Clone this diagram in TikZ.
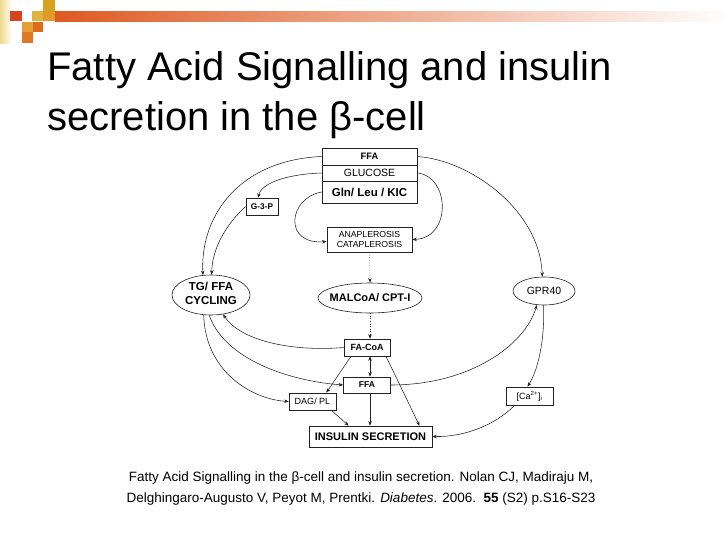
\documentclass[tikz,border=0pt]{standalone}
\usepackage{fontspec}
\setmainfont{Liberation Sans}
\usetikzlibrary{shapes.geometric,arrows.meta,calc}
\newcommand\fsz[1]{\fontsize{#1}{#1}\selectfont}
\definecolor{decoRed}{HTML}{D8431B}
\definecolor{decoGoldA}{HTML}{D9A21E}
\definecolor{decoGoldB}{HTML}{E2B240}
\definecolor{decoGoldC}{HTML}{E0992A}
\definecolor{decoOrA}{HTML}{E5A035}
\definecolor{decoOrB}{HTML}{DE6A1E}
\definecolor{decoOrC}{HTML}{E07A22}
\definecolor{decoBar}{HTML}{DE5A22}
\definecolor{decoCream}{HTML}{EFD98C}
\definecolor{ink}{HTML}{222222}
\begin{document}
\begin{tikzpicture}[x=1pt,y=-1pt,
  every node/.style={inner sep=0pt,text=black},
  box/.style={draw=ink,line width=0.6pt,rectangle,align=center},
  oval/.style={draw=ink,line width=0.6pt,ellipse},
  arr/.style={draw=ink,line width=0.55pt,-{Stealth[length=4.5pt,width=3.5pt]}},
  darr/.style={arr,dotted},
  barr/.style={draw=ink,line width=0.55pt,{Stealth[length=4.5pt,width=3.5pt]}-{Stealth[length=4.5pt,width=3.5pt]}}]
\useasboundingbox[fill=white] (0,0) rectangle (728,546);
% corner decoration
\fill[left color=decoCream,right color=white] (0,0) rectangle (12,43);
\fill[decoRed] (10,11) rectangle (22,21);
\fill[decoGoldA] (43,0) rectangle (55,11);
\fill[decoGoldB] (32,11) rectangle (43,21);
\fill[decoGoldC] (43,11) rectangle (55,21);
\fill[decoOrA] (22,22) rectangle (33,32);
\fill[decoOrB] (33,22) rectangle (43,32);
\fill[decoOrC] (22,32) rectangle (33,43);
\fill[left color=decoBar,right color=white] (55,11) rectangle (728,21);
% title
\node[anchor=base west,align=left,font=\fontsize{40}{50}\selectfont] (title) at (47,130)
  {Fatty Acid Signalling and insulin\\secretion in the β-cell};
% diagram nodes
\node[box,minimum width=95,minimum height=17,font=\fsz{9.3}\bfseries] (ffa1) at (369.5,156.5) {FFA};
\node[box,minimum width=95,minimum height=16,font=\fsz{10.5}] (glu) at (369.5,173) {GLUCOSE};
\node[box,minimum width=95,minimum height=22,font=\fsz{11.5}\bfseries] (gln) at (369.5,192) {Gln/ Leu / KIC};
\node[box,minimum width=32,minimum height=17,font=\fsz{8.3}\bfseries] (g3p) at (262,206.5) {G-3-P};
\node[box,minimum width=85,minimum height=25,font=\fontsize{8.7}{9.5}\selectfont] (ana) at (369.5,239.5) {ANAPLEROSIS\\CATAPLEROSIS};
\node[oval,minimum width=78,minimum height=40,font=\fontsize{11.5}{13.5}\selectfont\bfseries] (tg) at (211,295)
  {\makebox[0pt]{\begin{tabular}{@{}c@{}}TG/ FFA\\CYCLING\end{tabular}}};
\node[oval,minimum width=104,minimum height=30,font=\fsz{11}\bfseries] (mal) at (370,298) {\makebox[0pt]{MALCoA/ CPT-I}};
\node[oval,minimum width=62,minimum height=28,font=\fsz{10.5}] (gpr) at (544,291) {\makebox[0pt]{GPR40}};
\node[box,minimum width=46,minimum height=17,font=\fsz{9}\bfseries] (facoa) at (367,347.5) {FA-CoA};
\node[box,minimum width=47,minimum height=16,font=\fsz{8.5}\bfseries] (ffa2) at (367,385) {FFA};
\node[box,minimum width=47,minimum height=17,font=\fsz{9}] (dag) at (312.5,401.5) {DAG/ PL};
\node[box,minimum width=47,minimum height=18,font=\fsz{9}] (ca) at (529.5,396) {[Ca\textsuperscript{2+}]\textsubscript{i}};
\node[box,minimum width=123,minimum height=21,font=\fsz{11}\bfseries] (ins) at (370.5,436.5) {INSULIN SECRETION};
% connectors
\draw[arr] (ffa1.west) .. controls (240,160) and (200,215) .. (tg.112);
\draw[arr] (glu.west) .. controls (290,174) and (262,182) .. ($(g3p.north)+(-4,0)$);
\draw[arr] (g3p.west) .. controls (225,225) and (212,250) .. (tg.88);
\draw[arr] (ffa1.east) .. controls (470,160) and (540,210) .. (gpr.97);
\draw[arr] (glu.east) .. controls (450,176) and (452,238) .. (ana.east);
\draw[arr] (gln.west) .. controls (288,198) and (283,245) .. ($(ana.west)+(0,2)$);
\draw[darr] (ana.south) -- (mal.north);
\draw[darr] (mal.south) -- ($(facoa.north)+(3,0)$);
\draw[barr] ($(facoa.south)+(3,0)$) -- ($(ffa2.north)+(3,0)$);
\draw[arr] ($(ffa2.south)+(3,0)$) -- ($(ins.north)+(-0.5,0)$);
\draw[arr] (facoa.west) .. controls (290,352) and (240,340) .. (tg.302);
\draw[arr] (tg.265) .. controls (225,360) and (290,381) .. (ffa2.west);
\draw[arr] (tg.250) .. controls (205,370) and (250,399) .. (dag.west);
\draw[arr] ($(facoa.south)+(-16,0)$) -- ($(dag.north east)+(-10,0)$);
\draw[arr] ($(facoa.south)+(19,0)$) -- ($(ins.north)+(49,0)$);
\draw[arr] ($(dag.south east)+(-5,0)$) -- ($(ins.north west)+(40,0)$);
\draw[arr] (ffa2.east) .. controls (470,385) and (525,345) .. (gpr.243);
\draw[arr] (gpr.268) .. controls (545,340) and (538,370) .. ($(ca.north)+(-2,0)$);
\draw[arr] ($(ca.south west)+(9,0)$) .. controls (495,425) and (465,437) .. (ins.east);
% caption
\node[anchor=base,align=center,font=\fontsize{13.5}{21}\selectfont] (cap) at (361,502)
  {Fatty Acid Signalling in the β-cell and insulin secretion. Nolan CJ, Madiraju M,\\
   Delghingaro-Augusto V, Peyot M, Prentki. \textit{Diabetes}. 2006.\ \ \textbf{55} (S2) p.S16-S23};
\end{tikzpicture}
\end{document}
